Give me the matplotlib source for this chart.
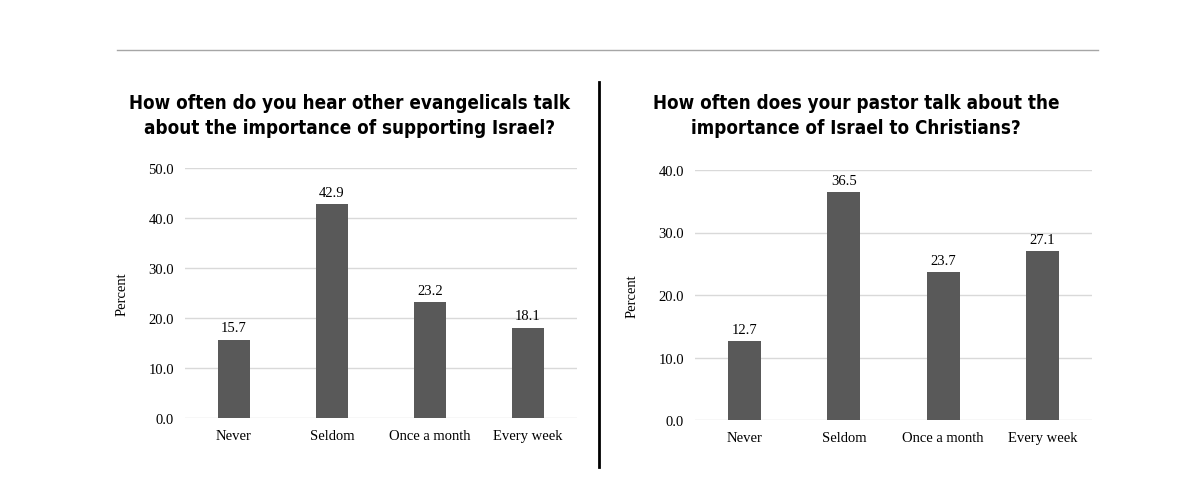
import matplotlib
matplotlib.use("Agg")
import matplotlib.pyplot as plt
from matplotlib.lines import Line2D

categories = ["Never", "Seldom", "Once a month", "Every week"]
left_values = [15.7, 42.9, 23.2, 18.1]
right_values = [12.7, 36.5, 23.7, 27.1]
left_title = "How often do you hear other evangelicals talk\nabout the importance of supporting Israel?"
right_title = "How often does your pastor talk about the\nimportance of Israel to Christians?"
left_ticks = [0, 10, 20, 30, 40, 50]
right_ticks = [0, 10, 20, 30, 40]

W, H = 1200, 502
fig = plt.figure(figsize=(12, 5.02), dpi=100)
serif = "Liberation Serif"

def ax_at(x0, y0, x1, y1):
    return fig.add_axes([x0 / W, 1 - y1 / H, (x1 - x0) / W, (y1 - y0) / H])

def draw(ax, vals, ticks, title, tx):
    x = range(len(categories))
    ax.bar(x, vals, width=0.33, color="#595959", zorder=3)
    for i, v in zip(x, vals):
        ax.text(i, v + ticks[-1] * 0.02, f"{v:.1f}", ha="center", va="bottom",
                fontfamily=serif, fontsize=10.5)
    ax.set_xlim(-0.5, len(categories) - 0.5)
    ax.set_ylim(0, ticks[-1])
    ax.set_yticks(ticks)
    ax.set_yticklabels([f"{t:.1f}" for t in ticks], fontfamily=serif, fontsize=10.5)
    ax.set_xticks(list(x))
    ax.set_xticklabels(categories, fontfamily=serif, fontsize=10.5)
    ax.tick_params(length=0, pad=8)
    ax.yaxis.grid(True, color="#d9d9d9", linewidth=1, zorder=0)
    for s in ax.spines.values():
        s.set_visible(False)
    ax.set_ylabel("Percent", fontfamily=serif, fontsize=10.5, labelpad=14)
    fig.text(tx / W, 1 - 116 / H, title, ha="center", va="center",
             fontfamily="DejaVu Sans", fontstretch="condensed", fontweight="bold",
             fontsize=13.5, linespacing=1.45)

axl = ax_at(185, 169, 577, 419)
draw(axl, left_values, left_ticks, left_title, 350)
axr = ax_at(695, 171, 1092, 421)
draw(axr, right_values, right_ticks, right_title, 856)

fig.add_artist(Line2D([117 / W, 1098 / W], [1 - 51 / H, 1 - 51 / H], color="#a6a6a6", linewidth=1))
fig.add_artist(Line2D([599 / W, 599 / W], [1 - 83 / H, 1 - 468 / H], color="black", linewidth=2))

fig.savefig("out.png", dpi=100, facecolor="white")
